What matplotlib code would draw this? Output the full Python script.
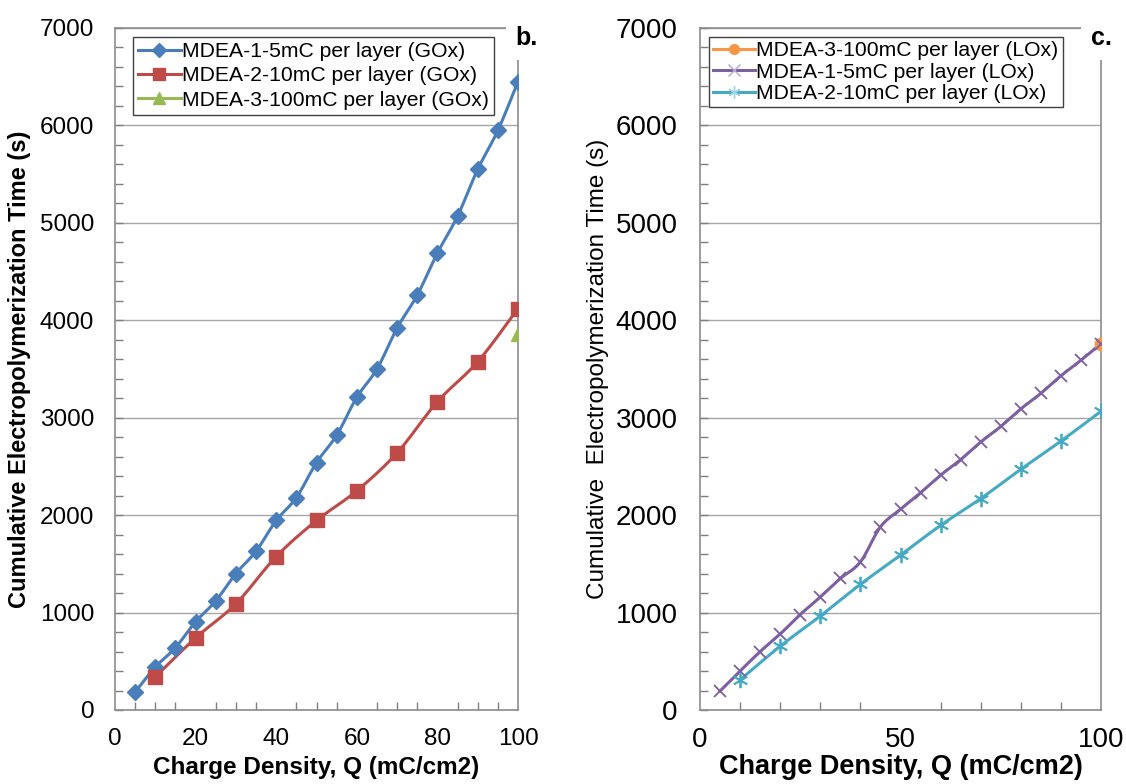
import numpy as np
import matplotlib
matplotlib.use("Agg")
import matplotlib.pyplot as plt
from matplotlib.ticker import MultipleLocator

plt.rcParams['font.family'] = ['Liberation Sans', 'DejaVu Sans']

# ---- panel b (GOx) ----
q_gox_1 = [5, 10, 15, 20, 25, 30, 35, 40, 45, 50, 55, 60, 65, 70, 75, 80, 85, 90, 95, 100]
t_gox_1 = [185, 440, 640, 905, 1120, 1400, 1630, 1945, 2180, 2540, 2820, 3210, 3500, 3920,
           4260, 4690, 5070, 5550, 5950, 6450]
q_gox_2 = [10, 20, 30, 40, 50, 60, 70, 80, 90, 100]
t_gox_2 = [340, 740, 1090, 1575, 1945, 2250, 2640, 3165, 3575, 4120]
q_gox_3 = [100]
t_gox_3 = [3860]

# ---- panel c (LOx) ----
q_lox_3 = [100]
t_lox_3 = [3760]
q_lox_1 = [5, 10, 15, 20, 25, 30, 35, 40, 45, 50, 55, 60, 65, 70, 75, 80, 85, 90, 95, 100]
t_lox_1 = [195, 400, 600, 780, 980, 1160, 1350, 1520, 1880, 2060, 2230, 2410, 2570, 2750,
           2910, 3090, 3250, 3430, 3590, 3760]
q_lox_2 = [10, 20, 30, 40, 50, 60, 70, 80, 90, 100]
t_lox_2 = [310, 655, 965, 1290, 1590, 1895, 2170, 2470, 2760, 3065]

labels_b = ["MDEA-1-5mC per layer (GOx)", "MDEA-2-10mC per layer (GOx)", "MDEA-3-100mC per layer (GOx)"]
labels_c = ["MDEA-3-100mC per layer (LOx)", "MDEA-1-5mC per layer (LOx)", "MDEA-2-10mC per layer (LOx)"]

BLUE = "#4a7ebb"
RED = "#be4b48"
GREEN = "#98b954"
ORANGE = "#f79646"
PURPLE = "#7d60a0"
TEAL = "#46aac5"


def smooth(x, y, n=12):
    """Catmull-Rom curve through the points, for a smoothed connecting line."""
    x = np.asarray(x, float)
    y = np.asarray(y, float)
    px = np.concatenate([[2 * x[0] - x[1]], x, [2 * x[-1] - x[-2]]])
    py = np.concatenate([[2 * y[0] - y[1]], y, [2 * y[-1] - y[-2]]])
    xs, ys = [], []
    t = np.linspace(0, 1, n, endpoint=False)
    for i in range(1, len(px) - 2):
        for arr, out in ((px, xs), (py, ys)):
            p0, p1, p2, p3 = arr[i - 1], arr[i], arr[i + 1], arr[i + 2]
            out.extend(0.5 * ((2 * p1) + (-p0 + p2) * t + (2 * p0 - 5 * p1 + 4 * p2 - p3) * t ** 2
                              + (-p0 + 3 * p1 - 3 * p2 + p3) * t ** 3))
    xs.append(x[-1])
    ys.append(y[-1])
    return np.array(xs), np.array(ys)


fig = plt.figure(figsize=(11.26, 7.84), dpi=100)
ax1 = fig.add_axes([0.1021, 0.0944, 0.3580, 0.8699])
ax2 = fig.add_axes([0.6217, 0.0944, 0.3561, 0.8699])


def style(ax, xmajor, xminor, labelsize, ypad, xpad):
    ax.set_xlim(0, 100)
    ax.set_ylim(0, 7000)
    ax.yaxis.set_major_locator(MultipleLocator(1000))
    ax.yaxis.set_minor_locator(MultipleLocator(200))
    ax.xaxis.set_major_locator(MultipleLocator(xmajor))
    ax.xaxis.set_minor_locator(MultipleLocator(xminor))
    ax.tick_params(which='both', direction='in', color='#7f7f7f', width=1)
    ax.tick_params(which='major', length=6, labelsize=labelsize)
    ax.tick_params(which='minor', length=6)
    ax.tick_params(axis='y', which='major', pad=ypad)
    ax.tick_params(axis='x', which='major', length=0, pad=xpad)
    ax.tick_params(axis='x', which='minor', length=6)
    ax.grid(axis='y', which='major', color='#a6a6a6', linewidth=1)
    ax.set_axisbelow(True)
    for s in ax.spines.values():
        s.set_color('#8c8c8c')
        s.set_linewidth(1.2)


style(ax1, 20, 5, 17.5, 15, 13)
style(ax2, 50, 10, 20, 16, 12)

# panel b
xs, ys = smooth(q_gox_1, t_gox_1, 6)
ax1.plot(xs, ys, color=BLUE, lw=2.2, zorder=3)
ax1.plot(q_gox_1, t_gox_1, ls='none', marker='D', ms=8, color=BLUE, zorder=4)
xs, ys = smooth(q_gox_2, t_gox_2, 6)
ax1.plot(xs, ys, color=RED, lw=2.2, zorder=3)
ax1.plot(q_gox_2, t_gox_2, ls='none', marker='s', ms=10, color=RED, zorder=4)
ax1.plot(q_gox_3, t_gox_3, ls='none', marker='^', ms=10, color=GREEN, zorder=4)

LEG_FS = 15.2
h_b = [
    plt.Line2D([], [], color=BLUE, lw=2.2, marker='D', ms=7),
    plt.Line2D([], [], color=RED, lw=2.2, marker='s', ms=9),
    plt.Line2D([], [], color=GREEN, lw=2.2, marker='^', ms=9),
]
leg1 = ax1.legend(h_b, labels_b, loc='upper left', bbox_to_anchor=(0.045, 0.987), fontsize=LEG_FS,
                  frameon=True, fancybox=False, edgecolor='#404040', framealpha=1,
                  handlelength=2.0, handletextpad=0.05, borderpad=0.25, labelspacing=0.25,
                  borderaxespad=0)
leg1.get_frame().set_linewidth(1.0)

ax1.set_xlabel("Charge Density, Q (mC/cm2)", fontsize=17.5, fontweight='bold', labelpad=4)
ax1.set_ylabel("Cumulative Electropolymerization Time (s)", fontsize=17, fontweight='bold',
               labelpad=6)

# panel c
ax2.plot(q_lox_3, t_lox_3, ls='none', marker='o', ms=9, color=ORANGE, zorder=4)
xs, ys = smooth(q_lox_1, t_lox_1, 10)
ax2.plot(xs, ys, color=PURPLE, lw=2.2, zorder=3)
ax2.plot(q_lox_1, t_lox_1, ls='none', marker='x', ms=9, mew=1.3, color=PURPLE, zorder=5)
xs, ys = smooth(q_lox_2, t_lox_2, 6)
ax2.plot(xs, ys, color=TEAL, lw=2.2, zorder=3)
ax2.plot(q_lox_2, t_lox_2, ls='none', marker=(6, 2, 0), ms=11, mew=1.3, color=TEAL, zorder=5)

h_c = [
    plt.Line2D([], [], color=ORANGE, lw=2.2, marker='o', ms=7),
    plt.Line2D([], [], color=PURPLE, lw=2.2, marker='x', ms=8, mew=1.0, mec='#b7a9cc'),
    plt.Line2D([], [], color=TEAL, lw=2.2, marker=(6, 2, 0), ms=9, mew=1.0, mec='#9fd3e0'),
]
leg2 = ax2.legend(h_c, labels_c, loc='upper left', bbox_to_anchor=(0.022, 0.987), fontsize=LEG_FS,
                  frameon=True, fancybox=False, edgecolor='#404040', framealpha=1,
                  handlelength=2.0, handletextpad=0.05, borderpad=0.2, labelspacing=0.12,
                  borderaxespad=0)
leg2.get_frame().set_linewidth(1.0)

ax2.set_xlabel("Charge Density, Q (mC/cm2)", fontsize=19.5, fontweight='bold', labelpad=1)
ax2.set_ylabel("Cumulative  Electropolymerization Time (s)", fontsize=17.5, labelpad=5)

# panel tags, drawn over the top-right corner of each frame
for ax, tag, dx in ((ax1, "b.", 0.022), (ax2, "c.", 0.0)):
    ax.text(1.0 + dx, 0.985, tag, transform=ax.transAxes, ha='center', va='center',
            fontsize=18, fontweight='bold', zorder=10, clip_on=False,
            bbox=dict(facecolor='white', edgecolor='none', pad=7))

fig.savefig("out.png", dpi=100, facecolor='white')
